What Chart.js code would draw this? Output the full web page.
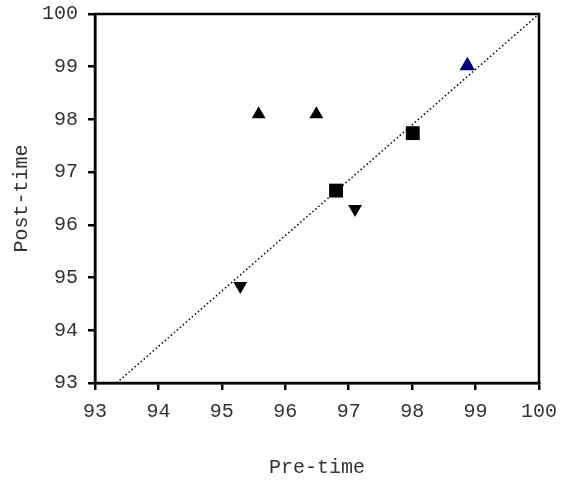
<!DOCTYPE html>
<html>
<head>
<meta charset="utf-8">
<script src="https://cdn.jsdelivr.net/npm/chart.js@4"></script>
<style>
  html, body { margin: 0; padding: 0; background: #fff; }
  #wrap { width: 571px; height: 481px; }
</style>
</head>
<body>
<div id="wrap"><canvas id="myChart" width="571" height="481"></canvas></div>
<script>
// data
const upX = [95.58, 96.49];
const upY = [98.10, 98.10];
const downX = [95.29, 97.10];
const downY = [94.84, 96.30];
const squareX = [96.80, 98.01];
const squareY = [96.65, 97.74];
const blueX = [98.87];
const blueY = [99.02];
const fitX = [93.34, 100];
const fitY = [93, 100];
const tickValues = [93, 94, 95, 96, 97, 98, 99, 100];

function pts(xs, ys) {
    return xs.map((x, i) => ({ x: x, y: ys[i] }));
}

// box round the plot area (top and right sides)
const frame = {
    id: 'frame',
    afterDraw(chart) {
        const a = chart.chartArea;
        const ctx = chart.ctx;
        ctx.save();
        ctx.strokeStyle = '#000';
        ctx.lineWidth = 2.5;
        ctx.strokeRect(a.left, a.top, a.right - a.left, a.bottom - a.top);
        ctx.restore();
    }
};

const font = { family: '"Liberation Mono", "Courier New", monospace', size: 20 };

const ctx = document.getElementById('myChart').getContext('2d');
const chart = new Chart(ctx, {
    type: 'scatter',
    data: {
        datasets: [
            {
                type: 'line',
                data: pts(fitX, fitY),
                borderColor: '#000',
                borderWidth: 1.5,
                borderDash: [1.5, 2.5],
                pointRadius: 0,
                fill: false
            },
            {
                data: pts(upX, upY),
                pointStyle: 'triangle',
                pointRadius: 8,
                backgroundColor: '#000',
                borderColor: '#000',
                borderWidth: 0
            },
            {
                data: pts(downX, downY),
                pointStyle: 'triangle',
                rotation: 180,
                pointRadius: 8,
                backgroundColor: '#000',
                borderColor: '#000',
                borderWidth: 0
            },
            {
                data: pts(squareX, squareY),
                pointStyle: 'rect',
                pointRadius: 9.8,
                backgroundColor: '#000',
                borderColor: '#000',
                borderWidth: 0
            },
            {
                data: pts(blueX, blueY),
                pointStyle: 'triangle',
                pointRadius: 9,
                backgroundColor: '#000080',
                borderColor: '#000080',
                borderWidth: 0
            }
        ]
    },
    options: {
        responsive: false,
        animation: false,
        layout: { padding: { left: 0, right: 32, top: 14, bottom: 0 } },
        plugins: {
            legend: { display: false },
            tooltip: { enabled: false }
        },
        scales: {
            x: {
                type: 'linear',
                min: 93,
                max: 100,
                afterBuildTicks: (axis) => { axis.ticks = tickValues.map(v => ({ value: v })); },
                afterFit: (axis) => { axis.height = 98; axis.paddingRight = 0; axis.paddingLeft = 0; },
                grid: { drawOnChartArea: false, drawTicks: true, tickLength: 7, color: '#000', lineWidth: 2.5 },
                border: { display: true, color: '#000', width: 2.5 },
                ticks: { color: '#333', font: font, padding: 10, maxRotation: 0 },
                title: { display: true, text: 'Pre-time', color: '#333', font: font, padding: { top: 4, bottom: 1 } }
            },
            y: {
                type: 'linear',
                min: 93,
                max: 100,
                afterBuildTicks: (axis) => { axis.ticks = tickValues.map(v => ({ value: v })); },
                afterFit: (axis) => { axis.width = 95; axis.paddingTop = 0; axis.paddingBottom = 0; },
                grid: { drawOnChartArea: false, drawTicks: true, tickLength: 7, color: '#000', lineWidth: 2.5 },
                border: { display: true, color: '#000', width: 2.5 },
                ticks: { color: '#333', font: font, padding: 10 },
                title: { display: true, text: 'Post-time', color: '#333', font: font, padding: { top: 10, bottom: 10 } }
            }
        }
    },
    plugins: [frame]
});
</script>
</body>
</html>
